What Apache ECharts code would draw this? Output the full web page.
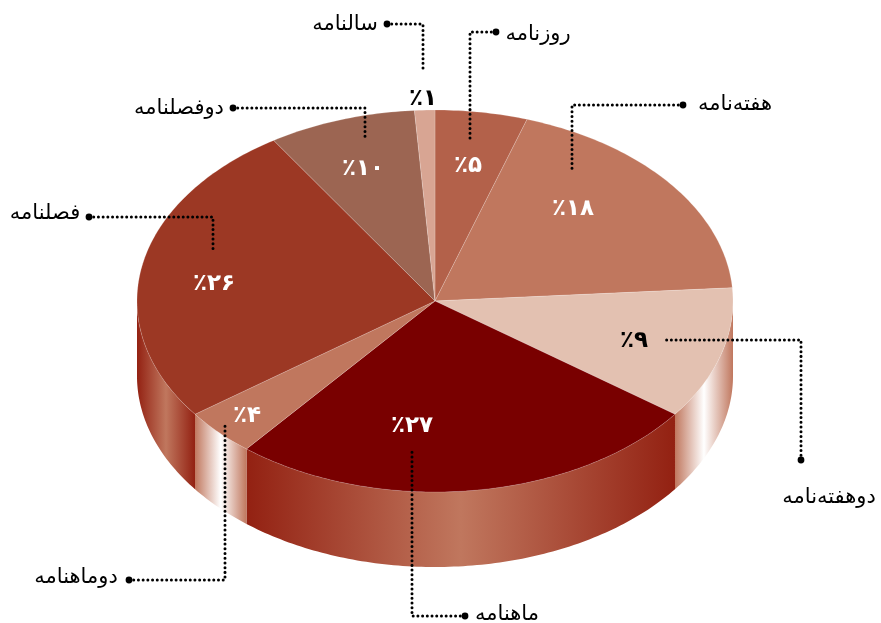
<!DOCTYPE html>
<html>
<head>
<meta charset="utf-8">
<style>
html, body { margin: 0; padding: 0; background: #fff; }
#main { width: 881px; height: 623px; }
</style>
<script src="https://cdn.jsdelivr.net/npm/echarts@6/dist/echarts.min.js"></script>
</head>
<body>
<div id="main"></div>
<script>
// data
var names = ['روزنامه', 'هفته‌نامه', 'دوهفته‌نامه', 'ماهنامه', 'دوماهنامه', 'فصلنامه', 'دوفصلنامه', 'سالنامه'];
var percentLabels = ['٪۵', '٪۱۸', '٪۹', '٪۲۷', '٪۴', '٪۲۶', '٪۱۰', '٪۱'];
// drawn share of each slice, the slices are not drawn exactly as labelled
var sliceShare = [5, 18.9, 11.2, 25.8, 4, 26, 8, 1.1];

// styles
var topColors = ['#b3614a', '#c0775e', '#e3c1b1', '#790000', '#c0775e', '#9c3824', '#9c6552', '#d8a593'];
var wallEdge = ['#c0775e', '#c0775e', '#c0775e', '#932112', '#c0775e', '#932112', '#932112', '#932112'];
var wallMid = ['#fff', '#fff', '#ffffff', '#c0775e', '#ffffff', '#c0775e', '#c0775e', '#c0775e'];
var labelColors = ['#fff', '#fff', '#000', '#fff', '#fff', '#fff', '#fff', '#000'];
var depth = 75;
var FONT = '"DejaVu Sans", sans-serif';

// layout of the labels and leaders, in pixels
var labelPos = [[468, 166], [573, 209], [634, 341], [412, 426], [247, 416], [214, 284], [363, 169], [423, 99]];
var namePos = [[538, 35], [735, 105], [829, 498], [507, 615], [76, 578], [45, 214], [179, 109], [345, 25]];
var leaders = [
    [[496, 32], [470, 32], [470, 140]],
    [[683, 105], [572, 105], [572, 172]],
    [[801, 460], [801, 340], [663, 340]],
    [[465, 616], [412, 616], [412, 450]],
    [[129, 580], [225, 580], [225, 422]],
    [[89, 217], [213, 217], [213, 252]],
    [[233, 108], [365, 108], [365, 139]],
    [[387, 24], [423, 24], [423, 70]]
];

var sliceData = [];
var sum = 0;
for (var i = 0; i < sliceShare.length; i++) {
    sliceData.push([sum, sum + sliceShare[i]]);
    sum += sliceShare[i];
}

// share -> point on the unit circle, clockwise from the top
function toPoint(api, share) {
    var a = share / 100 * 2 * Math.PI;
    return api.coord([Math.sin(a), Math.cos(a)]);
}

function arc(api, from, to) {
    var pts = [];
    var n = Math.max(2, Math.ceil((to - from) * 4));
    for (var i = 0; i <= n; i++) {
        pts.push(toPoint(api, from + (to - from) * i / n));
    }
    return pts;
}

function renderSlice(params, api) {
    var from = api.value(0), to = api.value(1), idx = params.dataIndex;
    var children = [];

    // side wall, only the part in the front half is visible
    var wf = Math.max(from, 25), wt = Math.min(to, 75);
    if (wt > wf) {
        var upper = arc(api, wf, wt);
        var lower = upper.map(function (p) { return [p[0], p[1] + depth]; }).reverse();
        children.push({
            type: 'polygon',
            shape: { points: upper.concat(lower) },
            style: {
                fill: new echarts.graphic.LinearGradient(0, 0, 1, 0, [
                    { offset: 0, color: wallEdge[idx] },
                    { offset: 0.5, color: wallMid[idx] },
                    { offset: 1, color: wallEdge[idx] }
                ])
            }
        });
    }

    var pts = [api.coord([0, 0])].concat(arc(api, from, to));
    children.push({
        type: 'polygon',
        shape: { points: pts },
        style: { fill: topColors[idx], stroke: 'rgba(255,255,255,0.3)', lineWidth: 0.6 }
    });
    return { type: 'group', children: children };
}

function renderLabel(params) {
    var idx = params.dataIndex;
    return {
        type: 'text',
        x: labelPos[idx][0],
        y: labelPos[idx][1],
        style: {
            text: percentLabels[idx],
            fill: labelColors[idx],
            font: 'bold 23px ' + FONT,
            align: 'center',
            verticalAlign: 'middle'
        }
    };
}

var graphics = [];
leaders.forEach(function (pts, i) {
    graphics.push({
        type: 'polyline',
        z: 20,
        shape: { points: pts },
        style: { stroke: '#000', fill: null, lineWidth: 3, lineCap: 'round', lineDash: [0.01, 4.7] }
    });
    graphics.push({
        type: 'circle',
        z: 20,
        shape: { cx: pts[0][0], cy: pts[0][1], r: 3.4 },
        style: { fill: '#000' }
    });
    graphics.push({
        type: 'text',
        z: 20,
        x: namePos[i][0],
        y: namePos[i][1],
        style: {
            text: names[i],
            fill: '#000',
            font: '21px ' + FONT,
            align: 'center',
            verticalAlign: 'middle'
        }
    });
});

var myChart = echarts.init(document.getElementById('main'));
var option = {
    animation: false,
    backgroundColor: '#fff',
    grid: { left: 137, right: 148, top: 110, bottom: 131 },
    xAxis: { type: 'value', min: -1, max: 1, show: false },
    yAxis: { type: 'value', min: -1, max: 1, show: false },
    graphic: graphics,
    series: [
        {
            type: 'custom',
            coordinateSystem: 'cartesian2d',
            renderItem: renderSlice,
            clip: false,
            data: sliceData,
            encode: { x: 0, y: 1 },
            silent: true
        },
        {
            type: 'custom',
            coordinateSystem: 'cartesian2d',
            renderItem: renderLabel,
            clip: false,
            z: 10,
            data: sliceData,
            encode: { x: 0, y: 1 },
            silent: true
        }
    ]
};
myChart.setOption(option);
</script>
</body>
</html>
